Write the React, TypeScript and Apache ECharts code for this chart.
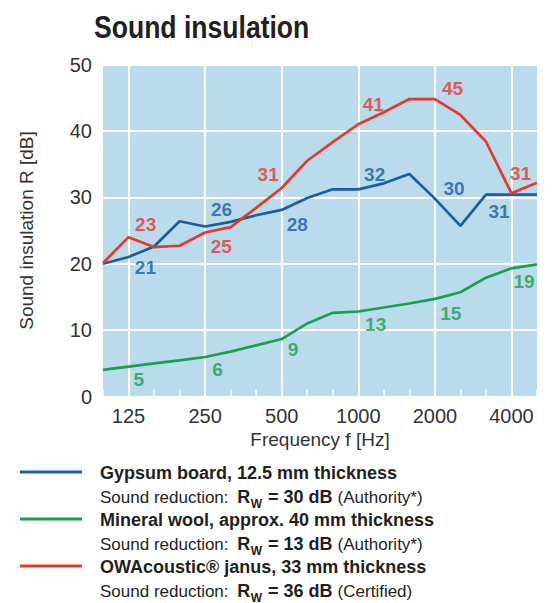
import React, { useEffect, useRef } from "react";
import * as echarts from "echarts";

// Third-octave band centre frequencies (Hz)
const frequencies = ["100", "125", "160", "200", "250", "315", "400", "500", "630", "800", "1000", "1250", "1600", "2000", "2500", "3150", "4000", "5000"];
const labeledFrequencies = ["125", "250", "500", "1000", "2000", "4000"];

// Sound insulation R [dB]
const gypsumValues = [20.0, 21.0, 22.6, 26.4, 25.6, 26.3, 27.3, 28.1, 29.9, 31.2, 31.2, 32.1, 33.5, 29.8, 25.7, 30.4, 30.4, 30.4];
const mineralWoolValues = [4.0, 4.5, 5.0, 5.45, 5.95, 6.75, 7.7, 8.65, 11.0, 12.6, 12.8, 13.4, 14.0, 14.7, 15.7, 17.9, 19.3, 19.9];
const owaValues = [20.1, 24.0, 22.5, 22.7, 24.7, 25.5, 28.4, 31.4, 35.5, 38.3, 41.0, 42.8, 44.8, 44.8, 42.4, 38.4, 30.6, 32.2];

// Value annotations: [band position, level dB, text]
const gypsumNotes: [number, number, string][] = [[1.66, 19.5, "21"], [4.64, 28.1, "26"], [7.61, 25.9, "28"], [10.64, 33.5, "32"], [13.75, 31.4, "30"], [15.51, 27.8, "31"]];
const owaNotes: [number, number, string][] = [[1.67, 25.9, "23"], [4.63, 22.6, "25"], [6.47, 33.4, "31"], [10.59, 44.0, "41"], [13.69, 46.4, "45"], [16.36, 33.6, "31"]];
const mineralWoolNotes: [number, number, string][] = [[1.4, 2.5, "5"], [4.49, 4.1, "6"], [7.44, 7.1, "9"], [10.68, 10.9, "13"], [13.62, 12.5, "15"], [16.49, 17.3, "19"]];

const seriesNames = ["Gypsum board, 12.5 mm thickness", "Mineral wool, approx. 40 mm thickness", "OWAcoustic® janus, 33 mm thickness"];
const ratingValues = [30, 13, 36];
const ratingSources = ["Authority*", "Authority*", "Certified"];
const colors = ["#1a5ca6", "#17a04e", "#e8372b"];

const FONT = "'Liberation Sans', Arial, sans-serif";
const TEXT = "#231f20";

function measure(text: string, font: string): number {
  const c = document.createElement("canvas").getContext("2d");
  if (!c) return text.length * 9;
  c.font = font;
  return c.measureText(text).width;
}

export default function App() {
  const ref = useRef<HTMLDivElement>(null);
  useEffect(() => {
    if (!ref.current) return;
    const chart = echarts.init(ref.current, undefined, { renderer: "svg" });
    const isLabeled = (_i: number, v: string) => labeledFrequencies.includes(v);

    const lineSeries = [gypsumValues, mineralWoolValues, owaValues].map((vals, i) => ({
      type: "line",
      name: seriesNames[i],
      data: vals,
      showSymbol: false,
      symbol: "none",
      z: 3,
      lineStyle: { color: colors[i], width: 2.7 },
      itemStyle: { color: colors[i] },
    }));
    const noteSeries = [gypsumNotes, mineralWoolNotes, owaNotes].map((notes, i) => ({
      type: "scatter",
      xAxisIndex: 1,
      data: notes,
      symbolSize: 0.1,
      itemStyle: { color: "rgba(0,0,0,0)" },
      silent: true,
      z: 4,
      label: {
        show: true,
        position: "inside",
        formatter: (p: any) => p.value[2],
        color: colors[i],
        fontFamily: FONT,
        fontWeight: "bold",
        fontSize: 19,
      },
    }));

    const regFont = `17px 'Liberation Sans'`;
    const boldFont = `bold 18px 'Liberation Sans'`;
    const subFont = `bold 12px 'Liberation Sans'`;
    const txt = (x: number, y: number, text: string, size: number, bold: boolean) => ({
      type: "text",
      x,
      y,
      style: {
        text,
        fontFamily: FONT,
        fontWeight: bold ? "bold" : "normal",
        fontSize: size,
        fill: TEXT,
        verticalAlign: "middle",
        align: "left",
      },
    });

    const legendGraphics: any[] = [];
    for (let i = 0; i < 3; i++) {
      const y0 = 472 + 47 * i;
      legendGraphics.push({
        type: "line",
        shape: { x1: 20, y1: y0, x2: 82, y2: y0 },
        style: { stroke: colors[i], lineWidth: 3 },
      });
      legendGraphics.push(txt(100, y0 + 1, seriesNames[i], 18, true));
      const y1 = y0 + 25;
      let x = 100;
      const p1 = "Sound reduction:";
      legendGraphics.push(txt(x, y1, p1, 17, false));
      x += measure(p1 + " ", regFont) + 4;
      legendGraphics.push(txt(x, y1, "R", 18, true));
      x += measure("R", boldFont) + 0.5;
      legendGraphics.push(txt(x, y1 + 6.5, "W", 12, true));
      x += measure("W", subFont) + 1;
      const p2 = ` = ${ratingValues[i]} dB`;
      legendGraphics.push(txt(x, y1, p2, 18, true));
      x += measure(p2, boldFont) + 5;
      legendGraphics.push(txt(x, y1, `(${ratingSources[i]})`, 17, false));
    }

    chart.setOption({
      animation: false,
      grid: { left: 103, right: 15, top: 64.5, height: 332, show: true, backgroundColor: "#b9dbeb", borderWidth: 0 },
      xAxis: [
        {
          type: "category",
          data: frequencies,
          boundaryGap: false,
          name: "Frequency f [Hz]",
          nameLocation: "middle",
          nameGap: 32,
          nameTextStyle: { fontFamily: FONT, fontSize: 19, color: "#333" },
          axisLine: { show: false },
          axisTick: { show: true, inside: true, interval: 0, length: 7, lineStyle: { color: "#fff", width: 1.5 } },
          axisLabel: { interval: isLabeled, fontFamily: FONT, fontSize: 20, color: "#333", margin: 9 },
          splitLine: { show: true, interval: isLabeled, lineStyle: { color: "#fff", width: 2 } },
        },
        { type: "value", min: 0, max: frequencies.length - 1, show: false },
      ],
      yAxis: {
        type: "value",
        min: 0,
        max: 50,
        interval: 10,
        name: "Sound insulation R [dB]",
        nameLocation: "middle",
        nameGap: 67,
        nameTextStyle: { fontFamily: FONT, fontSize: 19, color: "#333" },
        axisLine: { show: false },
        axisTick: { show: false },
        axisLabel: { fontFamily: FONT, fontSize: 20, color: "#333", margin: 11 },
        splitLine: { show: true, lineStyle: { color: "#fff", width: 2 } },
      },
      graphic: [
        {
          type: "text",
          x: 94,
          y: 27,
          scaleX: 0.83,
          style: { text: "Sound insulation", fontFamily: FONT, fontWeight: "bold", fontSize: 32, fill: TEXT, verticalAlign: "middle", align: "left" },
        },
        ...legendGraphics,
      ],
      series: [...lineSeries, ...noteSeries],
    });
    return () => chart.dispose();
  }, []);
  return <div ref={ref} style={{ width: 552, height: 603, position: "absolute", left: 0, top: 0 }} />;
}
